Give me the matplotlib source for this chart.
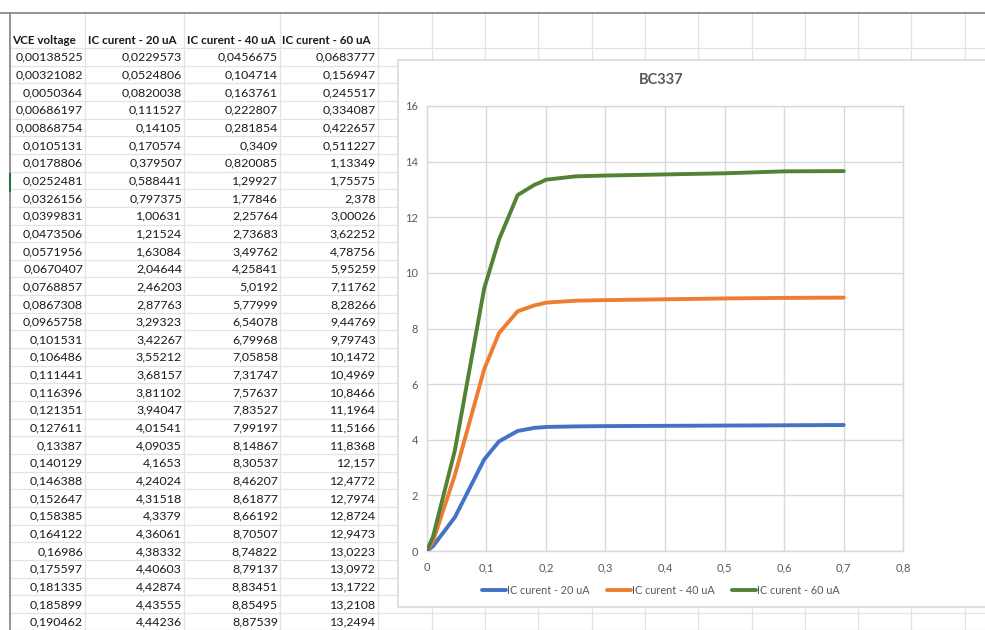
import numpy as np
import matplotlib
matplotlib.use("Agg")
import matplotlib.pyplot as plt
from matplotlib.patches import Rectangle
from matplotlib.ticker import FuncFormatter

plt.rcParams['font.family'] = ['Lato', 'DejaVu Sans']

# table rows shown in the sheet
vce = [0.00138525, 0.00321082, 0.0050364, 0.00686197, 0.00868754, 0.0105131,
       0.0178806, 0.0252481, 0.0326156, 0.0399831, 0.0473506, 0.0571956,
       0.0670407, 0.0768857, 0.0867308, 0.0965758, 0.101531, 0.106486,
       0.111441, 0.116396, 0.121351, 0.127611, 0.13387, 0.140129, 0.146388,
       0.152647, 0.158385, 0.164122, 0.16986, 0.175597, 0.181335, 0.185899,
       0.190462]
ic20 = [0.0229573, 0.0524806, 0.0820038, 0.111527, 0.14105, 0.170574,
        0.379507, 0.588441, 0.797375, 1.00631, 1.21524, 1.63084, 2.04644,
        2.46203, 2.87763, 3.29323, 3.42267, 3.55212, 3.68157, 3.81102,
        3.94047, 4.01541, 4.09035, 4.1653, 4.24024, 4.31518, 4.3379, 4.36061,
        4.38332, 4.40603, 4.42874, 4.43555, 4.44236]
ic40 = [0.0456675, 0.104714, 0.163761, 0.222807, 0.281854, 0.3409, 0.820085,
        1.29927, 1.77846, 2.25764, 2.73683, 3.49762, 4.25841, 5.0192, 5.77999,
        6.54078, 6.79968, 7.05858, 7.31747, 7.57637, 7.83527, 7.99197,
        8.14867, 8.30537, 8.46207, 8.61877, 8.66192, 8.70507, 8.74822,
        8.79137, 8.83451, 8.85495, 8.87539]
ic60 = [0.0683777, 0.156947, 0.245517, 0.334087, 0.422657, 0.511227, 1.13349,
        1.75575, 2.378, 3.00026, 3.62252, 4.78756, 5.95259, 7.11762, 8.28266,
        9.44769, 9.79743, 10.1472, 10.4969, 10.8466, 11.1964, 11.5166,
        11.8368, 12.157, 12.4772, 12.7974, 12.8724, 12.9473, 13.0223,
        13.0972, 13.1722, 13.2108, 13.2494]
# text as shown in the cells
vce_txt = ["0,00138525", "0,00321082", "0,0050364", "0,00686197", "0,00868754",
           "0,0105131", "0,0178806", "0,0252481", "0,0326156", "0,0399831",
           "0,0473506", "0,0571956", "0,0670407", "0,0768857", "0,0867308",
           "0,0965758", "0,101531", "0,106486", "0,111441", "0,116396",
           "0,121351", "0,127611", "0,13387", "0,140129", "0,146388",
           "0,152647", "0,158385", "0,164122", "0,16986", "0,175597",
           "0,181335", "0,185899", "0,190462"]
headers = ["VCE voltage", "IC curent - 20 uA", "IC curent - 40 uA", "IC curent - 60 uA"]

# rest of the curve (rows below the visible part)
vce_rest = [0.2, 0.25, 0.3, 0.4, 0.5, 0.6, 0.7]
ic20_rest = [4.46, 4.48, 4.49, 4.50, 4.51, 4.52, 4.53]
ic40_rest = [8.93, 9.00, 9.02, 9.05, 9.08, 9.10, 9.11]
ic60_rest = [13.35, 13.47, 13.50, 13.54, 13.58, 13.65, 13.66]

W, H = 985, 630
fig = plt.figure(figsize=(W / 100, H / 100), dpi=100)

# spreadsheet background in pixel coordinates
bg = fig.add_axes([0, 0, 1, 1])
bg.set_xlim(0, W)
bg.set_ylim(H, 0)
bg.axis('off')

grid_c = '#e3e3e3'
col_edges = [85, 184, 280, 378] + list(np.arange(431.7, W, 53.3))
row_h = 17.65
row_top = 48
for x in col_edges:
    bg.plot([x, x], [12, H], color=grid_c, lw=0.9, zorder=1)
for k in range(0, 34):
    y = row_top + k * row_h
    bg.plot([10, W], [y, y], color=grid_c, lw=0.9, zorder=1)
bg.plot([0, W], [12.5, 12.5], color='#8a8a8a', lw=1.3, zorder=2)
bg.plot([10, 10], [12.5, H], color='#8a8a8a', lw=1.3, zorder=2)
bg.plot([10, 10], [174, 191], color='#217346', lw=1.5, zorder=3)

txt_c = '#1a1a1a'
fs = 8.9
head_x = [12, 88, 187, 282]
for hx, h in zip(head_x, headers):
    bg.text(hx, 41, h, fontsize=8.4, fontweight='bold', color=txt_c,
            ha='left', va='center')

right_x = [83, 182, 278, 376]
for i in range(len(vce)):
    y = row_top + (i + 0.5) * row_h + 0.5
    vals = [vce_txt[i]] + [f"{v:g}".replace('.', ',') for v in (ic20[i], ic40[i], ic60[i])]
    for rx, s in zip(right_x, vals):
        bg.text(rx, y, s, fontsize=fs, color=txt_c, ha='right', va='center')

# chart box
bg.add_patch(Rectangle((398, 60), 600, 547, facecolor='white',
                       edgecolor='#d9d9d9', lw=1.2, zorder=5))

# chart
ax = fig.add_axes([426.7 / W, 1 - 551 / H, (903.3 - 426.7) / W, (551 - 106) / H])
x_all = vce + vce_rest
series = [("IC curent - 20 uA", ic20 + ic20_rest, '#4472C4'),
          ("IC curent - 40 uA", ic40 + ic40_rest, '#ED7D31'),
          ("IC curent - 60 uA", ic60 + ic60_rest, '#548235')]
# start at origin like the sheet's first row
for name, ys, c in series:
    ax.plot([0] + x_all, [0] + ys, color=c, lw=2.8, label=name,
            solid_capstyle='round', solid_joinstyle='round', zorder=3)

ax.set_xlim(0, 0.8)
ax.set_ylim(0, 16)
ax.set_xticks(np.arange(0, 0.81, 0.1))
ax.set_yticks(np.arange(0, 17, 2))
ax.xaxis.set_major_formatter(FuncFormatter(lambda v, p: f"{v:.1f}".replace('.', ',') if v > 0 else "0"))
ax.yaxis.set_major_formatter(FuncFormatter(lambda v, p: f"{v:g}"))
ax.grid(True, color='#d9d9d9', lw=1.0)
ax.set_axisbelow(True)
for s in ax.spines.values():
    s.set_color('#d9d9d9')
    s.set_linewidth(1.0)
ax.tick_params(length=0, labelsize=8, labelcolor='#595959')
ax.tick_params(axis='y', pad=6)
ax.tick_params(axis='x', pad=8)

fig.text(661 / W, 1 - 80 / H, "BC337", fontsize=10.5, fontweight='bold',
         color='#595959', ha='center', va='center')
leg = fig.legend(loc='center', bbox_to_anchor=(661 / W, 1 - 590 / H), ncol=3,
                 frameon=False, fontsize=7.8, handlelength=2.2, handletextpad=0.1,
                 columnspacing=1.6, labelcolor='#595959')

fig.savefig('out.png', dpi=100)
